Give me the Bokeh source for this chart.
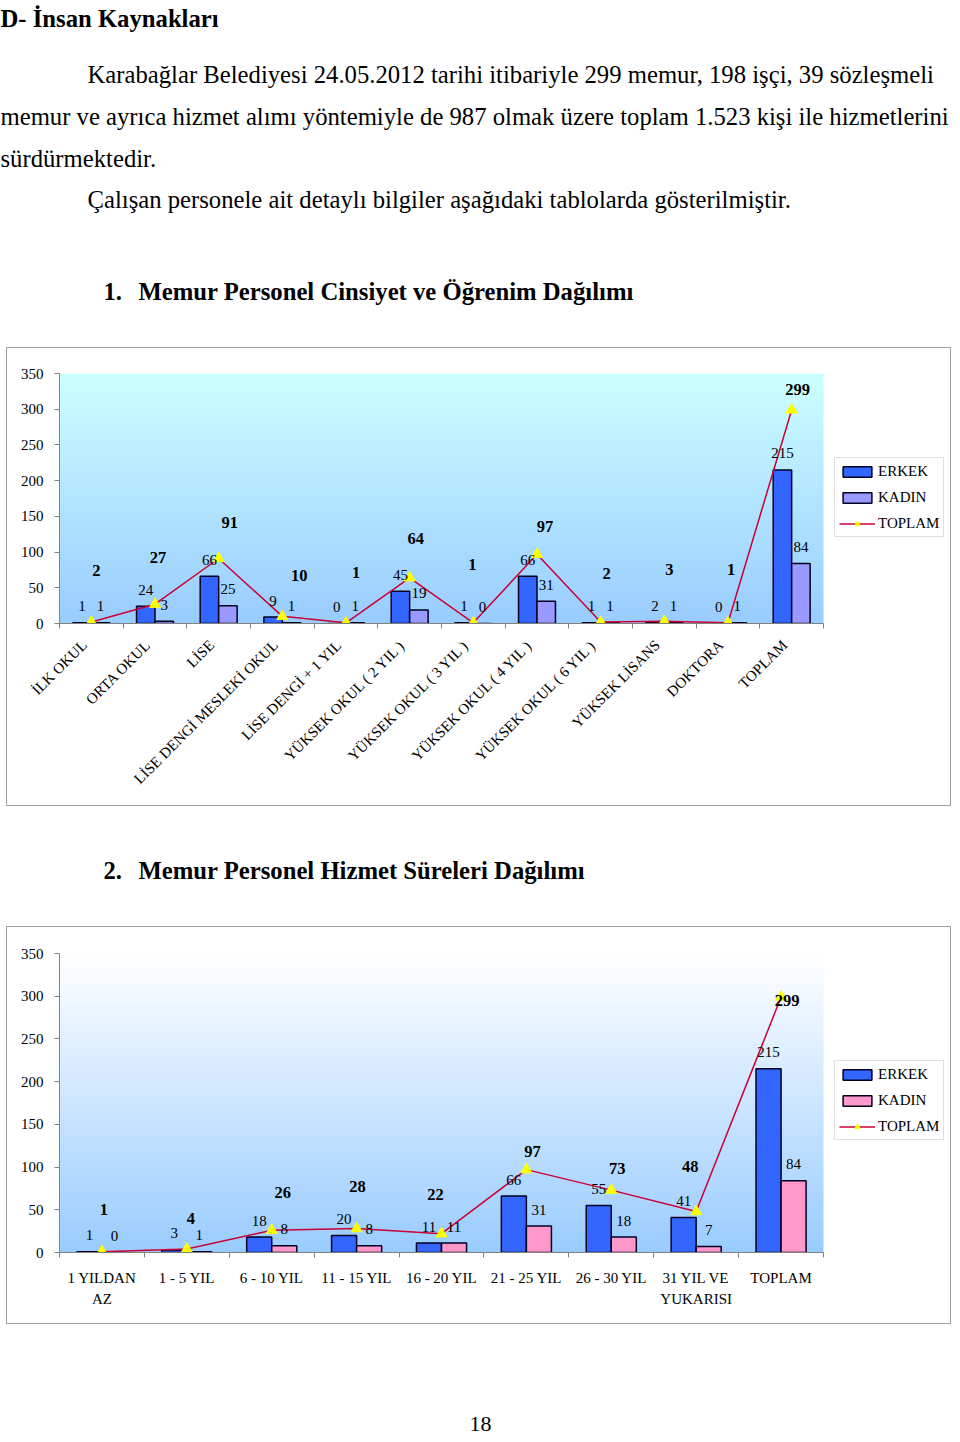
import math
import numpy as np
from bokeh.plotting import figure
from bokeh.models import (ColumnDataSource, Range1d, FixedTicker, LinearAxis,
                          Legend, LegendItem, CustomJSTickFormatter)
from bokeh.layouts import column
from bokeh.embed import file_html
from bokeh.resources import INLINE
from bokeh.core.properties import value

FONT = "Liberation Serif"

# ---------------- data ----------------
edu_categories = ["İLK OKUL", "ORTA OKUL", "LİSE", "LİSE DENGİ MESLEKİ OKUL", "LİSE DENGİ + 1 YIL",
                  "YÜKSEK OKUL ( 2 YIL )", "YÜKSEK OKUL ( 3 YIL )", "YÜKSEK OKUL ( 4 YIL )",
                  "YÜKSEK OKUL ( 6 YIL )", "YÜKSEK LİSANS", "DOKTORA", "TOPLAM"]
edu_erkek = [1, 24, 66, 9, 0, 45, 1, 66, 1, 2, 0, 215]
edu_kadin = [1, 3, 25, 1, 1, 19, 0, 31, 1, 1, 1, 84]
edu_toplam = [2, 27, 91, 10, 1, 64, 1, 97, 2, 3, 1, 299]

svc_categories = ["1 YILDAN\nAZ", "1 - 5 YIL", "6 - 10 YIL", "11 - 15 YIL", "16 - 20 YIL",
                  "21 - 25 YIL", "26 - 30 YIL", "31 YIL VE\nYUKARISI", "TOPLAM"]
svc_erkek = [1, 3, 18, 20, 11, 66, 55, 41, 215]
svc_kadin = [0, 1, 8, 8, 11, 31, 18, 7, 84]
svc_toplam = [1, 4, 26, 28, 22, 97, 73, 48, 299]

y_ticks = [0, 50, 100, 150, 200, 250, 300, 350]

# label placement (pixel offsets of the TOPLAM value labels)
edu_total_label_dx = [5, 3, 11, 17, 10, 6, -1, 8, 6, 5, 3, 6]
edu_total_label_dy = [-52, -47, -36, -41, -50, -39, -58, -28, -49, -52, -53, -20]
svc_total_label_dx = [2, 4, 11, 1, -6, 6, 6, -6, 6]
svc_total_label_dy = [-42, -31, -38, -42, -39, -18, -22, -45, 3]

ERKEK_COLOR = "#3366FF"
LINE_COLOR = "#CC0033"
TRI_COLOR = "#FFFF00"

FIG_W = 943          # chart figure width (inside 1px border)
LEFT = 52            # space left of the plot area
CAT_SPAN = 764       # pixel width occupied by the categories
BODY = "24.7px"


def gradient_image(bottom_rgb, top_rgb, rows=256):
    t = np.linspace(0.0, 1.0, rows)[:, None]
    c0 = np.array(bottom_rgb, dtype=float)
    c1 = np.array(top_rgb, dtype=float)
    rgb = np.round(c0 + (c1 - c0) * t).astype(np.uint8)
    img = np.empty((rows, 1), dtype=np.uint32)
    view = img.view(dtype=np.uint8).reshape((rows, 1, 4))
    view[:, 0, 0:3] = rgb
    view[:, 0, 3] = 255
    return img


def make_chart(cats, erkek, kadin, toplam, ldx, ldy, kadin_color, grad_bot, grad_top,
               height, top, frame_h, rotate, bar_w, label_standoff, legend_loc):
    n = len(cats)
    idx = list(range(n))
    frame_w = FIG_W - LEFT
    x_end = -0.5 + n * frame_w / CAT_SPAN
    p = figure(width=FIG_W, height=height,
               x_range=Range1d(-0.5, x_end),
               y_range=Range1d(0, 350),
               output_backend="svg", toolbar_location=None, title=None,
               x_axis_location=None, y_axis_location="left",
               min_border_left=LEFT, min_border_right=0,
               min_border_top=top, min_border_bottom=height - top - frame_h)
    p.background_fill_color = "white"
    p.border_fill_color = "white"
    p.outline_line_color = None
    p.grid.grid_line_color = None

    # gradient plot-area background
    p.image_rgba(image=[gradient_image(grad_bot, grad_top)], x=-0.5, y=0, dw=n, dh=350,
                 level="image")

    off = bar_w / 2.0
    src = ColumnDataSource(dict(
        x=idx, xe=[i - off for i in idx], xk=[i + off for i in idx],
        erkek=erkek, kadin=kadin, toplam=toplam,
        erkek_s=[str(v) for v in erkek], kadin_s=[str(v) for v in kadin],
        toplam_s=[str(v) for v in toplam], dx=ldx, dy=ldy))

    be = p.vbar(x="xe", top="erkek", width=bar_w, source=src,
                fill_color=ERKEK_COLOR, line_color="#000020", line_width=1.5)
    bk = p.vbar(x="xk", top="kadin", width=bar_w, source=src,
                fill_color=kadin_color, line_color="#000020", line_width=1.5)
    ln = p.line(x="x", y="toplam", source=src, line_color=LINE_COLOR, line_width=1.5)
    tr = p.scatter(x="x", y="toplam", source=src, marker="triangle", size=11,
                   fill_color=TRI_COLOR, line_color=TRI_COLOR)

    common = dict(source=src, text_font=value(FONT), text_color="black",
                  text_align="center", text_baseline="middle")
    p.text(x="xe", y="erkek", text="erkek_s", text_font_size="15px", y_offset=-16.5, **common)
    p.text(x="xk", y="kadin", text="kadin_s", text_font_size="15px", y_offset=-16.5, **common)
    p.text(x="x", y="toplam", text="toplam_s", text_font_size="16.5px",
           text_font_style="bold", x_offset="dx", y_offset="dy", **common)

    # y axis
    ya = p.yaxis[0]
    ya.ticker = FixedTicker(ticks=y_ticks)
    ya.axis_line_color = "#808080"
    ya.major_tick_line_color = "#808080"
    ya.major_tick_out = 5
    ya.major_tick_in = 0
    ya.minor_tick_line_color = None
    ya.major_label_standoff = 11
    ya.major_label_text_font = FONT
    ya.major_label_text_font_size = "15px"
    ya.major_label_text_color = "black"

    # category separator ticks
    bax = LinearAxis(ticker=FixedTicker(ticks=[i - 0.5 for i in range(n + 1)]),
                     bounds=(-0.5, n - 0.5),
                     axis_line_color="#808080", major_tick_line_color="#808080",
                     major_tick_out=5, major_tick_in=0, minor_tick_line_color=None,
                     major_label_standoff=0,
                     formatter=CustomJSTickFormatter(code="return ''"))
    p.add_layout(bax, "below")

    # category labels (rotated labels end slightly left of the category centre)
    shift = (7.0 * n / CAT_SPAN) if rotate else 0.0
    p.extra_x_ranges = {"labels": Range1d(-0.5 + shift, x_end + shift)}
    cax = LinearAxis(x_range_name="labels", ticker=FixedTicker(ticks=idx),
                     bounds=(-0.5, n - 0.5),
                     major_label_overrides={i: c for i, c in zip(idx, cats)},
                     axis_line_color=None, major_tick_line_color=None,
                     major_tick_out=0, major_tick_in=0, minor_tick_line_color=None,
                     major_label_standoff=label_standoff,
                     major_label_text_font=FONT, major_label_text_font_size="15px",
                     major_label_text_color="black",
                     major_label_text_line_height=1.33)
    if rotate:
        cax.major_label_orientation = math.pi / 4
    p.add_layout(cax, "below")

    leg = Legend(items=[LegendItem(label="ERKEK", renderers=[be]),
                        LegendItem(label="KADIN", renderers=[bk]),
                        LegendItem(label="TOPLAM", renderers=[ln, tr])],
                 location=legend_loc, margin=0, padding=4, spacing=8,
                 glyph_width=36, glyph_height=13, label_height=18, label_standoff=3,
                 label_text_font=FONT, label_text_font_size="15px", label_text_color="black",
                 border_line_color="#BFBFBF", border_line_width=1,
                 background_fill_color="white", background_fill_alpha=1.0)
    p.add_layout(leg)
    return p


def text_fig(height, width=960):
    f = figure(width=width, height=height, x_range=Range1d(0, width), y_range=Range1d(height, 0),
               output_backend="svg", toolbar_location=None, title=None,
               x_axis_location=None, y_axis_location=None, min_border=0)
    f.outline_line_color = None
    f.grid.grid_line_color = None
    f.background_fill_color = "white"
    f.border_fill_color = "white"
    return f


def put(f, x, y, s, size=BODY, bold=False, align="left"):
    f.text(x=[x], y=[y], text=[s], text_font=value(FONT), text_font_size=size,
           text_font_style="bold" if bold else "normal", text_color="black",
           text_align=align, text_baseline="alphabetic")


# ---------------- header ----------------
header = text_fig(347)
put(header, 0, 18, "D- İnsan Kaynakları", bold=True)
put(header, 87, 74, "Karabağlar Belediyesi 24.05.2012 tarihi itibariyle 299 memur, 198 işçi, 39 sözleşmeli")
put(header, 0, 116, "memur ve ayrıca hizmet alımı yöntemiyle de 987 olmak üzere toplam 1.523 kişi ile hizmetlerini")
put(header, 0, 158, "sürdürmektedir.")
put(header, 87, 199, "Çalışan personele ait detaylı bilgiler aşağıdaki tablolarda gösterilmiştir.")
put(header, 103, 291, "1.", bold=True)
put(header, 138, 291, "Memur Personel Cinsiyet ve Öğrenim Dağılımı", bold=True)

chart1 = make_chart(edu_categories, edu_erkek, edu_kadin, edu_toplam,
                    edu_total_label_dx, edu_total_label_dy, "#9999FF",
                    (153, 204, 255), (204, 255, 255),
                    height=457, top=25, frame_h=250, rotate=True, bar_w=0.29,
                    label_standoff=14, legend_loc=(775, 86))

mid = text_fig(120)
put(mid, 103, 64, "2.", bold=True)
put(mid, 138, 64, "Memur Personel Hizmet Süreleri Dağılımı", bold=True)

chart2 = make_chart(svc_categories, svc_erkek, svc_kadin, svc_toplam,
                    svc_total_label_dx, svc_total_label_dy, "#FF99CC",
                    (153, 204, 255), (255, 255, 255),
                    height=396, top=26, frame_h=299, rotate=False, bar_w=0.295,
                    label_standoff=12, legend_loc=(775, 112))

footer = text_fig(118)
put(footer, 480, 99, "18", size="22px", align="center")

box1 = column(chart1, styles={"border": "1px solid #A0A0A0"}, margin=(0, 0, 0, 6))
box2 = column(chart2, styles={"border": "1px solid #A0A0A0"}, margin=(0, 0, 0, 6))
page = column(header, box1, mid, box2, footer)

open("out.html", "w").write(file_html(page, INLINE))
